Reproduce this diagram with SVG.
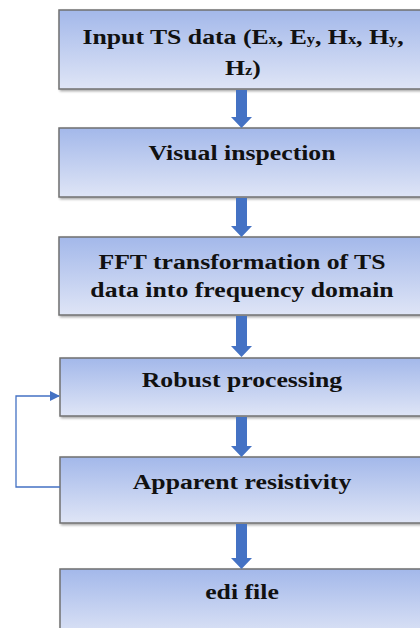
<svg xmlns="http://www.w3.org/2000/svg" width="420" height="628" viewBox="0 0 420 628">
<defs>
<linearGradient id="g" x1="0" y1="0" x2="0" y2="1">
<stop offset="0" stop-color="#A3B8EA"/>
<stop offset="1" stop-color="#DFE5F6"/>
</linearGradient>
<filter id="sh" x="-5%" y="-10%" width="115%" height="130%">
<feDropShadow dx="1.5" dy="1.5" stdDeviation="1" flood-color="#000" flood-opacity="0.35"/>
</filter>
<marker id="tri" markerWidth="10" markerHeight="10" refX="9" refY="5" orient="auto" markerUnits="userSpaceOnUse">
<path d="M0,0 L10,5 L0,10 Z" fill="#4472C4"/>
</marker>
</defs>
<style>
.box{fill:url(#g);stroke:#707070;stroke-width:1.5;filter:url(#sh)}
.t{font-family:"Liberation Serif","Times New Roman",serif;font-weight:bold;font-size:22px;fill:#111;text-anchor:middle}
.s{font-size:14px}
.blk{fill:#4472C4}
.fb{fill:none;stroke:#4472C4;stroke-width:1.3}
</style>
<g id="n1"><rect class="box" x="59" y="10" width="370" height="79"/>
<text class="t" transform="translate(243,44) scale(1.17,1)">Input TS data (E<tspan class="s">x</tspan>, E<tspan class="s">y</tspan>, H<tspan class="s">x</tspan>, H<tspan class="s">y</tspan>,</text>
<text class="t" transform="translate(243,75) scale(1.17,1)">H<tspan class="s">z</tspan>)</text></g>
<g id="n2"><rect class="box" x="59" y="128" width="370" height="69"/>
<text class="t" transform="translate(242,160) scale(1.17,1)">Visual inspection</text></g>
<g id="n3"><rect class="box" x="59" y="237" width="370" height="78"/>
<text class="t" transform="translate(242,269) scale(1.17,1)">FFT transformation of TS</text>
<text class="t" transform="translate(242,297) scale(1.17,1)">data into frequency domain</text></g>
<g id="n4"><rect class="box" x="60" y="358" width="370" height="58"/>
<text class="t" transform="translate(242,387) scale(1.17,1)">Robust processing</text></g>
<g id="n5"><rect class="box" x="60" y="457" width="370" height="66"/>
<text class="t" transform="translate(242,489) scale(1.17,1)">Apparent resistivity</text></g>
<g id="n6"><rect class="box" x="60" y="569" width="370" height="70"/>
<text class="t" transform="translate(242,599) scale(1.17,1)">edi file</text></g>
<g id="connectors">
<path class="blk" d="M236,90 H247 V117 H252 L241.5,128 L231,117 H236 Z"/>
<path class="blk" d="M236,198 H247 V226 H252 L241.5,237 L231,226 H236 Z"/>
<path class="blk" d="M236,316 H247 V346 H252 L241.5,357 L231,346 H236 Z"/>
<path class="blk" d="M236,417 H247 V446 H252 L241.5,457 L231,446 H236 Z"/>
<path class="blk" d="M236,524 H247 V558 H252 L241.5,569 L231,558 H236 Z"/>
<path class="fb" d="M60,487 H16 V396 H59" marker-end="url(#tri)"/>
</g>
</svg>
